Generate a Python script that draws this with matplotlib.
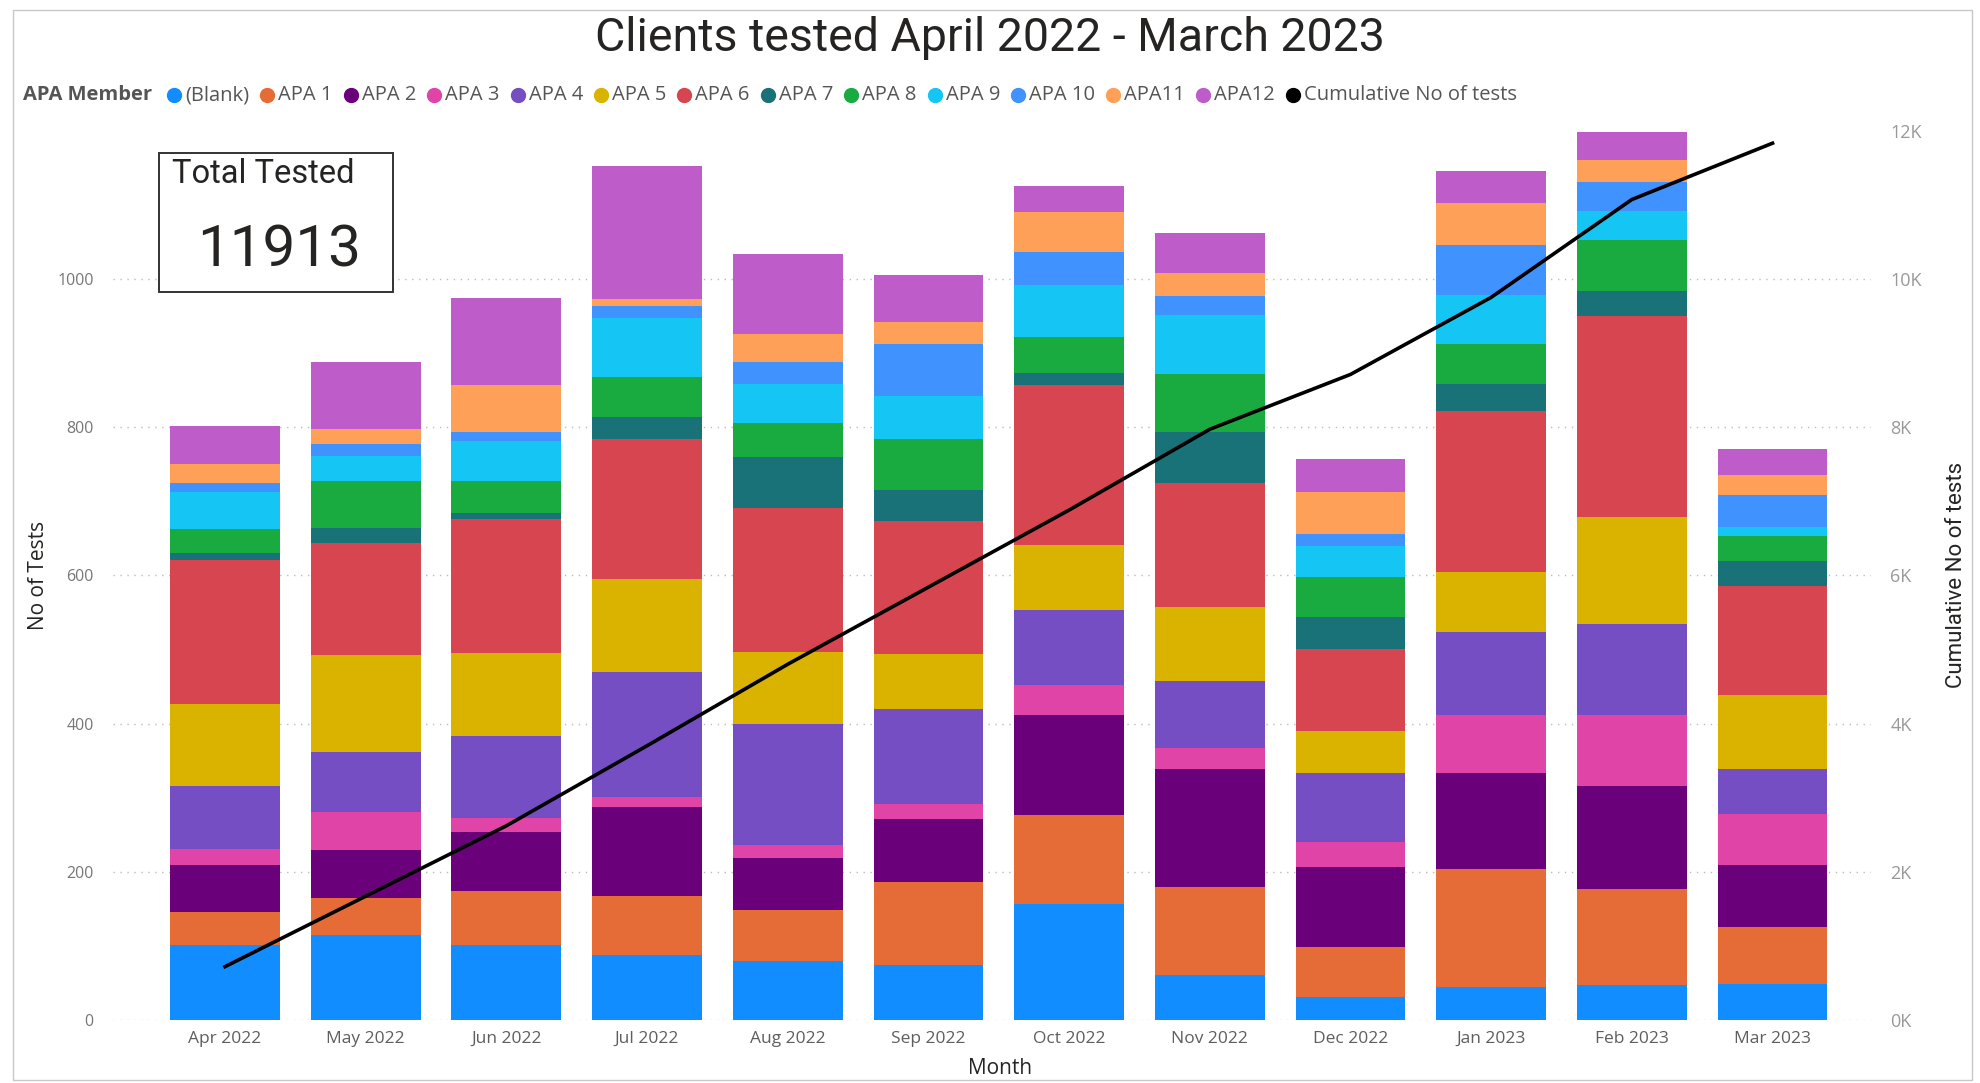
import numpy as np
import matplotlib
matplotlib.use('Agg')
import matplotlib.pyplot as plt
from matplotlib.patches import Rectangle
from matplotlib.lines import Line2D

months = ['Apr 2022', 'May 2022', 'Jun 2022', 'Jul 2022', 'Aug 2022', 'Sep 2022',
          'Oct 2022', 'Nov 2022', 'Dec 2022', 'Jan 2023', 'Feb 2023', 'Mar 2023']

members = ['(Blank)', 'APA 1', 'APA 2', 'APA 3', 'APA 4', 'APA 5', 'APA 6',
           'APA 7', 'APA 8', 'APA 9', 'APA 10', 'APA11', 'APA12']
colors = ['#118DFF', '#E66C37', '#6B007B', '#E044A7', '#744EC2', '#D9B300', '#D64550',
          '#197278', '#1AAB40', '#15C6F4', '#4092FF', '#FFA058', '#BE5DC9']

# tests per month for each member
blank = [101, 115, 101, 88, 79, 74, 157, 61, 31, 45, 47, 48]
apa1 = [45, 49, 73, 79, 70, 112, 119, 119, 67, 159, 130, 77]
apa2 = [63, 65, 80, 121, 70, 85, 135, 158, 108, 129, 139, 84]
apa3 = [22, 52, 19, 13, 17, 20, 41, 29, 34, 79, 96, 69]
apa4 = [85, 80, 110, 168, 164, 128, 101, 90, 93, 111, 122, 60]
apa5 = [111, 132, 112, 126, 96, 75, 88, 100, 57, 82, 144, 101]
apa6 = [193, 150, 181, 189, 195, 179, 216, 168, 110, 217, 272, 146]
apa7 = [10, 21, 8, 30, 69, 42, 16, 69, 44, 36, 33, 34]
apa8 = [33, 63, 43, 54, 45, 69, 48, 77, 54, 54, 69, 34]
apa9 = [49, 34, 54, 79, 53, 58, 71, 80, 41, 66, 39, 12]
apa10 = [12, 16, 12, 17, 30, 70, 44, 26, 17, 67, 39, 44]
apa11 = [26, 21, 64, 9, 37, 30, 54, 31, 56, 57, 31, 27]
apa12 = [51, 90, 117, 179, 108, 63, 35, 54, 45, 44, 37, 34]
series = [blank, apa1, apa2, apa3, apa4, apa5, apa6, apa7, apa8, apa9, apa10, apa11, apa12]

# cumulative line (right axis)
cumulative = [720, 1670, 2620, 3700, 4800, 5840, 6880, 7970, 8710, 9750, 11070, 11830]
total_tested = 11913

W, H = 1980, 1083
fig = plt.figure(figsize=(W / 100, H / 100), dpi=100)
plt.rcParams['font.family'] = ['Open Sans', 'DejaVu Sans']

ax = fig.add_axes([113 / W, 1 - 1020 / H, (1871 - 113) / W, (1020 - 118) / H])
x = np.arange(len(months))
bottom = np.zeros(len(months))
for vals, c in zip(series, colors):
    ax.bar(x, vals, bottom=bottom, width=0.78, color=c, linewidth=0, zorder=2)
    bottom += np.array(vals)

ax.set_xlim(-0.796, 11.70)
ax.set_ylim(0, 1217)
ax.set_yticks([0, 200, 400, 600, 800, 1000])
ax.set_xticks(x)
ax.set_xticklabels(months)
ax.tick_params(axis='x', length=0, pad=8, labelsize=12.5, labelcolor='#605E5C')
ax.tick_params(axis='y', length=0, pad=14, labelsize=11.5, labelcolor='#777777')
ax.yaxis.grid(True, linestyle=(0, (1, 4)), color='#bbbbbb', linewidth=1, zorder=0)
for s in ax.spines.values():
    s.set_visible(False)

ax2 = ax.twinx()
ax2.plot(x, cumulative, color='black', linewidth=2.6, zorder=5)
ax2.set_ylim(0, 12170)
ax2.set_yticks(range(0, 12001, 2000))
ax2.set_yticklabels(['%dK' % (v // 1000) for v in range(0, 12001, 2000)])
ax2.tick_params(axis='y', length=0, pad=14, labelsize=13, labelcolor='#999999')
for s in ax2.spines.values():
    s.set_visible(False)

# titles
fig.text(990 / W, 1 - 38 / H, 'Clients tested April 2022 - March 2023',
         ha='center', va='center', fontsize=33.5, color='#252423',
         family=['Roboto', 'DejaVu Sans'])
fig.text(38 / W, 0.469, 'No of Tests', rotation=90, ha='center', va='center',
         fontsize=15, color='#252423')
fig.text(1957 / W, 0.469, 'Cumulative No of tests', rotation=90, ha='center',
         va='center', fontsize=16, color='#252423',
         family=['Roboto', 'DejaVu Sans'])
fig.text(1000 / W, 1 - 1068 / H, 'Month', ha='center', va='center',
         fontsize=15, color='#252423')

# total tested card
fig.add_artist(Rectangle((159 / W, 1 - 292 / H), 234 / W, 139 / H, transform=fig.transFigure,
                         facecolor='white', edgecolor='#333333', linewidth=1.4, zorder=4))
fig.text(172 / W, 1 - 174 / H, 'Total Tested', ha='left', va='center', fontsize=23.5,
         color='#252423', family=['Roboto', 'DejaVu Sans'], zorder=5)
fig.text(279 / W, 1 - 251 / H, str(total_tested), ha='center', va='center', fontsize=42,
         color='#252423', family=['Roboto', 'DejaVu Sans'], zorder=5)

# legend laid out by hand, left to right
fig.canvas.draw()
r = fig.canvas.get_renderer()
ly = 1 - 95 / H
t = fig.text(23 / W, ly, 'APA Member', ha='left', va='center', fontsize=14.5,
             weight='bold', color='#555555')
cx = t.get_window_extent(r).x1 + 22
items = list(zip(members, colors)) + [('Cumulative No of tests', 'black')]
for name, c in items:
    fig.add_artist(Line2D([cx / W], [ly], marker='o', markersize=10, color=c,
                          linestyle='none', transform=fig.transFigure))
    t = fig.text((cx + 11) / W, ly, name, ha='left', va='center', fontsize=14.5,
                 color='#555555')
    cx = t.get_window_extent(r).x1 + 18

# frame around the visual
fig.add_artist(Rectangle((13 / W, 1 - 1080 / H), (1972 - 13) / W, (1080 - 10) / H,
                         transform=fig.transFigure, fill=False, edgecolor='#c8c8c8',
                         linewidth=1))

fig.savefig('out.png', dpi=100)
